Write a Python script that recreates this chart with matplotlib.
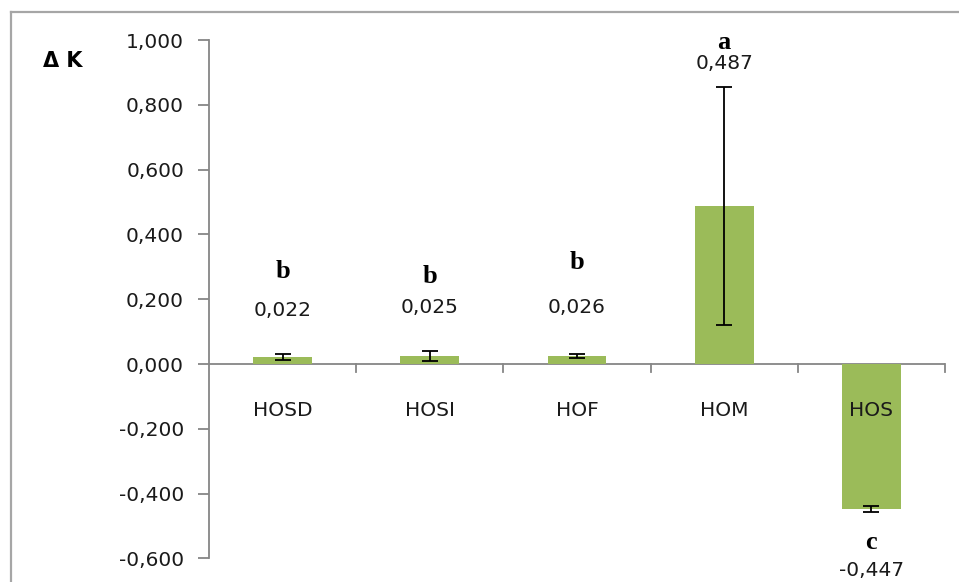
import matplotlib
matplotlib.use("Agg")
import matplotlib.pyplot as plt
import matplotlib.transforms as mtransforms
from matplotlib.lines import Line2D

# Data
categories = ["HOSD", "HOSI", "HOF", "HOM", "HOS"]
delta_k = [0.022, 0.025, 0.026, 0.487, -0.447]
errors = [0.009, 0.016, 0.006, 0.367, 0.010]
groups = ["b", "b", "b", "a", "c"]
y_ticks = [-0.6, -0.4, -0.2, 0.0, 0.2, 0.4, 0.6, 0.8, 1.0]

# Placement of the annotations (data units)
value_label_y = [0.164, 0.173, 0.173, 0.929, -0.636]
group_label_y = [0.284, 0.269, 0.312, 0.991, -0.552]

W, H, DPI = 959, 582, 100
fig = plt.figure(figsize=(W / DPI, H / DPI), dpi=DPI)
fig.patch.set_facecolor("white")

# Outer chart frame: only its top and left edges fall inside the image
fx, fy = 10.5 / W, 1 - 11.5 / H
for xs, ys in (([fx, 1.0], [fy, fy]), ([fx, fx], [fy, 0.0])):
    fig.add_artist(Line2D(xs, ys, transform=fig.transFigure,
                          color="#a6a6a6", linewidth=1.6))

left, right = 209 / W, 945 / W
top_px, bot_px = 40.0, 558.4
ax = fig.add_axes([left, (H - bot_px) / H, right - left, (bot_px - top_px) / H])

x = list(range(len(categories)))
ax.bar(x, delta_k, width=0.4, color="#9bbb59", zorder=2)
ax.errorbar(x, delta_k, yerr=errors, fmt="none", ecolor="black",
            elinewidth=1.3, capsize=6, capthick=1.3, zorder=3)

ax.set_xlim(-0.5, len(categories) - 0.5)
ax.set_ylim(-0.6, 1.0)

axis_col = "#868686"
for s in ["top", "right", "bottom"]:
    ax.spines[s].set_visible(False)
ax.spines["left"].set_color(axis_col)
ax.spines["left"].set_linewidth(1.3)

# Horizontal category axis at zero
ax.axhline(0, color=axis_col, linewidth=1.3, zorder=1)
for b in range(1, len(categories) + 1):
    ax.plot([b - 0.5, b - 0.5], [0, -8 / 324], color=axis_col,
            linewidth=1.3, clip_on=False, zorder=1)
ax.set_xticks([])

font = "DejaVu Sans"
fs = 14.5
txt_col = "#1a1a1a"
ax.set_yticks(y_ticks)
ax.set_yticklabels([("%.3f" % v).replace(".", ",") for v in y_ticks],
                   fontsize=fs, family=font, color=txt_col)
ax.tick_params(axis="y", direction="out", length=8, width=1.3,
               color=axis_col, pad=10)

# Category names below the zero line
cat_tr = mtransforms.offset_copy(ax.transData, fig=fig, y=-46, units="dots")
for i, c in enumerate(categories):
    ax.text(i, 0, c, transform=cat_tr, ha="center", va="center",
            fontsize=fs, family=font, color=txt_col)

# Value and significance labels
for i in x:
    ax.text(i, value_label_y[i], ("%.3f" % delta_k[i]).replace(".", ","),
            ha="center", va="center", fontsize=fs, family=font,
            color=txt_col, clip_on=False)
    ax.text(i, group_label_y[i], groups[i], ha="center", va="center",
            fontsize=19, family="Liberation Serif", fontweight="bold",
            color="black", clip_on=False)

fig.text(43 / W, 1 - 61 / H, "\u0394 K", ha="left", va="center",
         fontsize=15, family="DejaVu Sans", fontweight="bold",
         color="black")

fig.savefig("out.png", dpi=DPI, facecolor="white")
